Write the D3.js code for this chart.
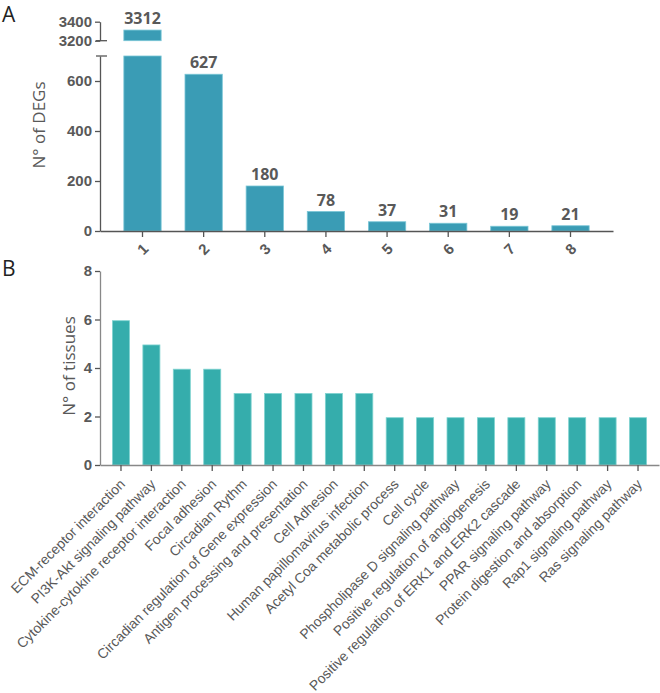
<!DOCTYPE html>
<html>
<head>
<meta charset="utf-8">
<script src="https://cdn.jsdelivr.net/npm/d3@7"></script>
<style>
  html, body { margin: 0; padding: 0; background: #fff; }
  svg { display: block; font-family: "Open Sans", sans-serif; }
</style>
</head>
<body>
<svg id="chart" width="660" height="693"></svg>
<script>
// ---------- data ----------
const topCategories = ["1", "2", "3", "4", "5", "6", "7", "8"];
const topValues = [3312, 627, 180, 78, 37, 31, 19, 21];
const topLowerTicks = [0, 200, 400, 600];
const topUpperTicks = [3200, 3400];
const topYLabel = "N° of DEGs";

const bottomCategories = [
  "ECM-receptor interaction",
  "PI3K-Akt signaling pathway",
  "Cytokine-cytokine receptor interaction",
  "Focal adhesion",
  "Circadian Rythm",
  "Circadian regulation of Gene expression",
  "Antigen processing and presentation",
  "Cell Adhesion",
  "Human papillomavirus infection",
  "Acetyl Coa metabolic process",
  "Cell cycle",
  "Phospholipase D signaling pathway",
  "Positive regulation of angiogenesis",
  "Positive regulation of ERK1 and ERK2 cascade",
  "PPAR signaling pathway",
  "Protein digestion and absorption",
  "Rap1 signaling pathway",
  "Ras signaling pathway"
];
const bottomValues = [6, 5, 4, 4, 3, 3, 3, 3, 3, 2, 2, 2, 2, 2, 2, 2, 2, 2];
const bottomTicks = [0, 2, 4, 6, 8];
const bottomYLabel = "N° of tissues";

// ---------- styles ----------
const textColor = "#595959";
const axisColor = "#555";
const topFill = "#3a9cb5";
const topStroke = "#79c6d6";
const bottomFill = "#35adac";
const bottomStroke = "#7fd3d0";

const svg = d3.select("#chart");
const fmt = d3.format("d");

function styleAxis(g) {
  g.selectAll("path, line").attr("stroke", axisColor).attr("stroke-width", 1.3);
  g.selectAll("text").attr("fill", textColor);
}

// ================= Panel A =================
const xTop = d3.scaleBand().domain(topCategories).range([100, 613])
  .paddingInner(0.39).paddingOuter(0.39);
const yLow = d3.scaleLinear().domain([0, 700]).range([231, 56]);
const yUp = d3.scaleLinear().domain([3200, 3400]).range([40.7, 21.7]);
const breakLow = 700, breakUp = 3200;

const gA = svg.append("g");

// bars lower segment
gA.selectAll("rect.low").data(topValues).join("rect")
  .attr("class", "low")
  .attr("x", (d, i) => xTop(topCategories[i]))
  .attr("width", xTop.bandwidth())
  .attr("y", d => yLow(Math.min(d, breakLow)))
  .attr("height", d => yLow(0) - yLow(Math.min(d, breakLow)))
  .attr("fill", topFill).attr("stroke", topStroke).attr("stroke-width", 0.8);

// bars upper segment
gA.selectAll("rect.up").data(topValues.map((v, i) => ({v, c: topCategories[i]})).filter(d => d.v > breakLow))
  .join("rect")
  .attr("class", "up")
  .attr("x", d => xTop(d.c))
  .attr("width", xTop.bandwidth())
  .attr("y", d => yUp(d.v))
  .attr("height", d => yUp(breakUp) - yUp(d.v))
  .attr("fill", topFill).attr("stroke", topStroke).attr("stroke-width", 0.8);

// value labels
gA.selectAll("text.val").data(topValues).join("text")
  .attr("class", "val")
  .attr("x", (d, i) => xTop(topCategories[i]) + xTop.bandwidth() / 2)
  .attr("y", d => (d > breakLow ? yUp(d) : yLow(d)) - 6)
  .attr("text-anchor", "middle")
  .attr("font-size", 16).attr("font-weight", "bold")
  .attr("fill", textColor)
  .text(d => d);

// y axes
const axLow = gA.append("g").attr("transform", "translate(100,0)")
  .call(d3.axisLeft(yLow).tickValues(topLowerTicks).tickFormat(fmt).tickSize(5).tickSizeOuter(0).tickPadding(3));
axLow.selectAll("text").attr("font-size", 15).attr("font-weight", "bold");
styleAxis(axLow);
const axUp = gA.append("g").attr("transform", "translate(100,0)")
  .call(d3.axisLeft(yUp).tickValues(topUpperTicks).tickFormat(fmt).tickSize(5).tickSizeOuter(0).tickPadding(3));
axUp.selectAll("text").attr("font-size", 15).attr("font-weight", "bold");
styleAxis(axUp);

// break caps
[yLow(breakLow), yUp(breakUp)].forEach(y => {
  gA.append("line").attr("x1", 96).attr("x2", 107).attr("y1", y).attr("y2", y)
    .attr("stroke", axisColor).attr("stroke-width", 1.3);
});

// x axis
const axXTop = gA.append("g").attr("transform", `translate(0,${yLow(0)})`)
  .call(d3.axisBottom(xTop).tickSize(6).tickSizeOuter(0));
styleAxis(axXTop);
axXTop.selectAll("text")
  .attr("font-size", 15)
  .attr("font-weight", 600)
  .attr("text-anchor", "middle")
  .attr("dy", null)
  .attr("y", null)
  .attr("dominant-baseline", "central")
  .attr("transform", "translate(0,18) rotate(-45)");

// y label
gA.append("text")
  .attr("transform", `translate(45,125) rotate(-90)`)
  .attr("text-anchor", "middle")
  .attr("font-size", 17).attr("fill", textColor)
  .text(topYLabel);

// panel letter
svg.append("text").attr("x", 2).attr("y", 22).attr("font-size", 21)
  .attr("fill", "#222").text("A");

// ================= Panel B =================
const xBot = d3.scaleBand().domain(bottomCategories).range([100, 659])
  .paddingInner(0.44).paddingOuter(0.41);
const yBot = d3.scaleLinear().domain([0, 8]).range([465, 271]);

const gB = svg.append("g");

gB.selectAll("rect").data(bottomValues).join("rect")
  .attr("x", (d, i) => xBot(bottomCategories[i]))
  .attr("width", xBot.bandwidth())
  .attr("y", d => yBot(d) + 1.2)
  .attr("height", d => yBot(0) - yBot(d) - 1.2)
  .attr("fill", bottomFill).attr("stroke", bottomStroke).attr("stroke-width", 0.8);

const axYB = gB.append("g").attr("transform", "translate(100,0)")
  .call(d3.axisLeft(yBot).tickValues(bottomTicks).tickFormat(fmt).tickSize(5).tickSizeOuter(0).tickPadding(3));
axYB.selectAll("text").attr("font-size", 15).attr("font-weight", "bold");
styleAxis(axYB);
axYB.select(".domain").attr("stroke", "#888");

const axXB = gB.append("g").attr("transform", `translate(0,${yBot(0)})`)
  .call(d3.axisBottom(xBot).tickSize(6).tickSizeOuter(0));
styleAxis(axXB);
axXB.select(".domain").attr("stroke", "#888");
axXB.selectAll("text")
  .attr("font-size", 13.9)
  .attr("text-anchor", "end")
  .attr("y", null)
  .attr("dy", null)
  .attr("transform", "translate(0,8) rotate(-45)")
  .attr("dx", -5)
  .attr("dy", 12);

gB.append("text")
  .attr("transform", `translate(75,366) rotate(-90)`)
  .attr("text-anchor", "middle")
  .attr("font-size", 17).attr("fill", textColor)
  .text(bottomYLabel);

svg.append("text").attr("x", 2).attr("y", 276).attr("font-size", 21)
  .attr("fill", "#222").text("B");
</script>
</body>
</html>
